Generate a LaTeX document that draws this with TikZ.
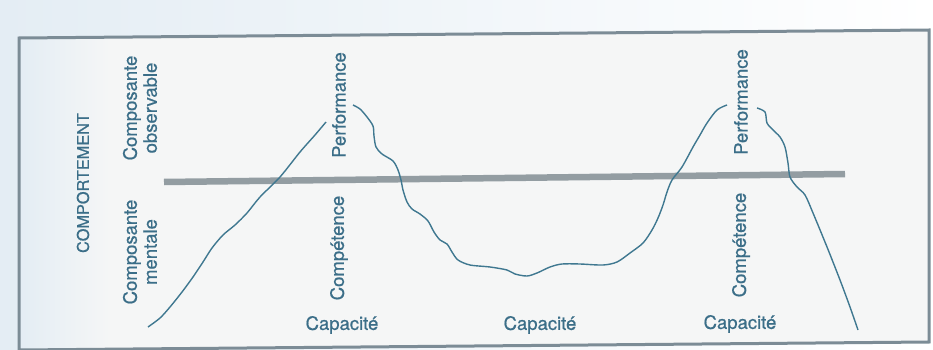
\documentclass[tikz,border=0pt]{standalone}
\usepackage{fontspec}
\setmainfont[FakeBold=0.7]{TeX Gyre Heros}
\definecolor{ink}{HTML}{3B6E88}
\definecolor{curve}{HTML}{3F7890}
\definecolor{bar}{HTML}{939DA2}
\definecolor{frame}{HTML}{7C8C96}
\definecolor{paper}{HTML}{F5F6F6}
\definecolor{tint}{HTML}{E4EDF4}

\begin{document}
\begin{tikzpicture}[x=1pt, y=-1pt, every node/.style={text=ink, font=\fontsize{18.5}{20}\selectfont, inner sep=0pt, align=center}, label/.style={rotate=90}, wave/.style={curve, line width=1.4pt}]
  \useasboundingbox (0,0) rectangle (933,350);
  \shade[left color=tint, right color=white] (0,0) rectangle (933,350);
  \fill[paper] (19,38) -- (929,30) -- (929,342) -- (19,350) -- cycle;
  \shade[left color=tint, right color=paper] (20,37) rectangle (110,349);
  \draw[frame, line width=3pt] (19,350) -- (19,38) -- (929,30) -- (929,342) -- (19,350);
  \draw[bar, line width=6.5pt] (164,182) -- (845,174);
  \node[label, font=\fontsize{16.3}{18}\selectfont] (comportement) at (83,183) {COMPORTEMENT};
  \node[label] (observable) at (140,108) {Composante\\observable};
  \node[label] (mentale) at (140,252) {Composante\\mentale};
  \node[label] (perf1) at (339,105) {Performance};
  \node[label] (comp1) at (339,248) {Compétence};
  \node[label] (perf2) at (741,102) {Performance};
  \node[label] (comp2) at (741,245) {Compétence};
  \node (cap1) at (342,325) {Capacité};
  \node (cap2) at (540,325) {Capacité};
  \node (cap3) at (740,324) {Capacité};
  \draw[wave] plot[smooth] coordinates {(148,327) (160,318) (170,307) (182,292) (193,277) (203,262) (212,248) (223,235) (235,225) (247,213) (260,197) (280,177) (300,152) (315,135) (326,122)};
  \draw[wave] plot[smooth] coordinates {(353,105) (360,109) (367,117) (373,126) (374,136) (376,147) (382,154) (393,161) (398,170) (401,180) (403,190) (407,202) (412,209) (420,214) (428,221) (434,232) (440,240) (447,244) (452,252) (458,260) (470,265) (490,267) (507,270) (515,274) (527,276) (537,273) (550,267) (562,264) (580,264) (603,265) (617,262) (630,253) (643,243) (652,230) (658,218) (663,205) (667,192) (672,180) (682,167) (693,147) (700,135) (707,123) (717,110) (727,105)};
  \draw[wave] plot[smooth] coordinates {(757,108) (765,112) (767,123) (773,130) (780,137) (785,147) (788,163) (790,177) (797,187) (805,195) (813,213) (827,247) (840,280) (850,307) (858,330)};
\end{tikzpicture}
\end{document}
